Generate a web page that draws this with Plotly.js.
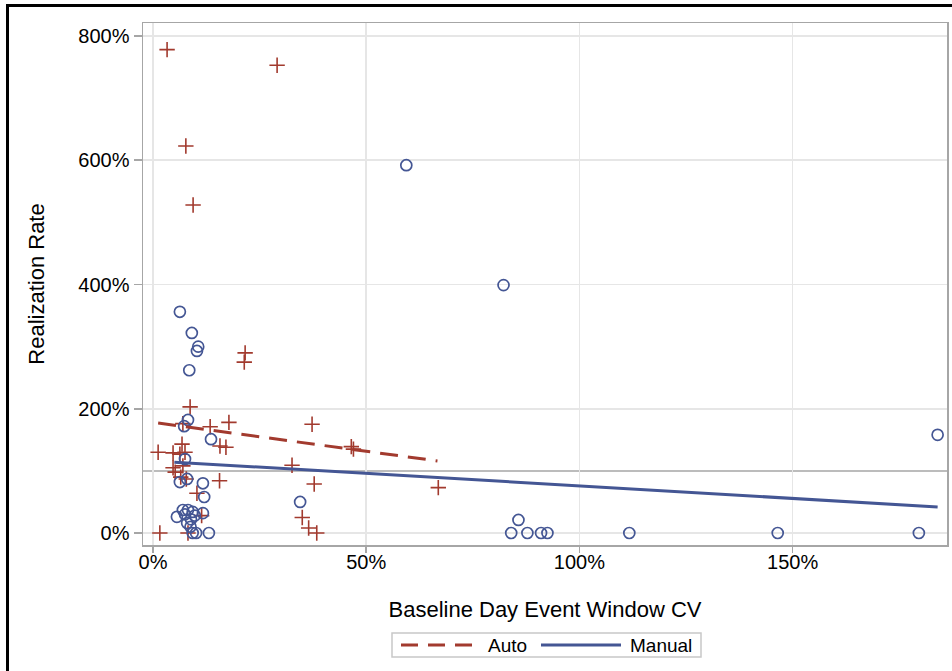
<!DOCTYPE html>
<html>
<head>
<meta charset="utf-8">
<script src="https://cdn.plot.ly/plotly-3.0.1.min.js"></script>
<style>
  html, body { margin: 0; padding: 0; background: #fff; }
  #wrap { position: relative; width: 952px; height: 671px; overflow: hidden; }
  #chart { position: absolute; left: 0; top: 0; width: 952px; height: 671px; }
  #frame { position: absolute; left: 6px; top: 4px; width: 960px; height: 700px;
           border-top: 3px solid #000; border-left: 3px solid #000; pointer-events: none; }
</style>
</head>
<body>
<div id="wrap">
  <div id="chart"></div>
  <div id="frame"></div>
</div>
<script>
// Auto group (red crosses): Baseline Day Event Window CV (%) vs Realization Rate (%)
const autoX = [3.3, 29.1, 7.7, 9.4, 21.6, 21.4, 8.7, 7.0, 13.4, 17.8, 37.3, 6.8, 15.7, 17.1, 46.5, 47.0,
               1.2, 4.7, 6.3, 7.5, 32.6, 4.7, 5.2, 7.0, 6.5, 7.8, 15.6, 37.8, 66.9, 10.3, 11.4,
               35.0, 36.5, 1.6, 8.2, 38.4];
const autoY = [778, 753, 623, 528, 290, 275, 203, 176, 171, 178, 175, 143, 140, 138, 139, 135,
               130, 129, 127, 130, 109, 105, 98, 108, 90, 87, 84, 79, 73, 64, 28,
               25, 8, 0, 0, 0];

// Manual group (blue circles)
const manualX = [59.4, 82.2, 184.0, 6.3, 9.1, 10.6, 10.3, 8.5, 8.2, 7.3, 13.6, 7.5, 6.3, 8.0, 11.7, 12.0,
                 5.6, 7.0, 8.2, 9.3, 7.5, 9.8, 8.0, 8.8, 11.7, 9.3, 10.1, 13.1, 34.5, 84.0, 85.7,
                 87.8, 91.0, 92.5, 111.7, 146.5, 179.6, 8.9];
const manualY = [592, 399, 158, 356, 322, 300, 293, 262, 182, 172, 151, 119, 82, 87, 80, 58,
                 26, 37, 37, 34, 30, 28, 16, 10, 32, 0, 0, 0, 50, 0, 21,
                 0, 0, 0, 0, 0, 0, 22];

// Regression fit lines (end points)
const autoFitX = [1.2, 66.7];
const autoFitY = [177, 116];
const manualFitX = [5.0, 184.0];
const manualFitY = [114, 42];

const seriesNames = ['Auto', 'Manual'];
const xTicks = [0, 50, 100, 150];
const yTicks = [0, 200, 400, 600, 800];
const refY = 100;

const RED = '#A23A2E';
const BLUE = '#445694';
const FONT = 'Liberation Sans, Arial, sans-serif';

// plot-area geometry (px) used to place the legend box under the plot
const M = { l: 143, r: 5, t: 23, b: 126 };
const W = 952, H = 671;
const pw = W - M.l - M.r, ph = H - M.t - M.b;
const px = v => (v - M.l) / pw;
const py = v => (H - M.b - v) / ph;

const traces = [
  { x: autoX, y: autoY, type: 'scatter', mode: 'markers', name: seriesNames[0], showlegend: false,
    marker: { symbol: 'cross-thin-open', size: 11, color: RED, line: { color: RED, width: 1.6 } } },
  { x: manualX, y: manualY, type: 'scatter', mode: 'markers', name: seriesNames[1], showlegend: false,
    marker: { symbol: 'circle-open', size: 11, color: BLUE, line: { color: BLUE, width: 1.7 } } },
  { x: autoFitX, y: autoFitY, type: 'scatter', mode: 'lines', name: seriesNames[0], showlegend: false,
    line: { color: RED, width: 3, dash: '18px,10px' } },
  { x: manualFitX, y: manualFitY, type: 'scatter', mode: 'lines', name: seriesNames[1], showlegend: false,
    line: { color: BLUE, width: 3 } }
];

const legY = 645;
const layout = {
  width: W, height: H,
  margin: M,
  paper_bgcolor: '#fff', plot_bgcolor: '#fff',
  font: { family: FONT, color: '#000', size: 19 },
  showlegend: false,
  xaxis: {
    range: [-2.35, 186.2], tickvals: xTicks, ticktext: xTicks.map(v => v + '%'),
    showgrid: true, gridcolor: '#e6e6e6', gridwidth: 1.5, zeroline: false,
    showline: true, mirror: true, linecolor: '#a6a6a6', linewidth: 1.5,
    ticks: 'outside', ticklen: 6, tickcolor: '#a6a6a6', tickwidth: 1.5,
    ticklabelstandoff: -8,
    tickfont: { size: 20, family: FONT },
    title: { text: 'Baseline Day Event Window CV', font: { size: 22, family: FONT }, standoff: 30 }
  },
  yaxis: {
    range: [-19.3, 820.9], tickvals: yTicks, ticktext: yTicks.map(v => v + '%'),
    showgrid: true, gridcolor: '#e6e6e6', gridwidth: 1.5, zeroline: false,
    showline: true, mirror: true, linecolor: '#a6a6a6', linewidth: 1.5,
    ticks: 'outside', ticklen: 8, tickcolor: '#a6a6a6', tickwidth: 1.5,
    tickfont: { size: 20, family: FONT },
    title: { text: 'Realization Rate', font: { size: 22, family: FONT }, standoff: 27 }
  },
  shapes: [
    { type: 'line', xref: 'paper', x0: 0, x1: 1, yref: 'y', y0: refY, y1: refY,
      line: { color: '#a6a6a6', width: 1.5 }, layer: 'below' },
    // legend box and keys
    { type: 'rect', xref: 'paper', yref: 'paper', x0: px(392), x1: px(701), y0: py(633), y1: py(657),
      line: { color: '#c8c8c8', width: 1.5 }, fillcolor: '#fff' },
    { type: 'line', xref: 'paper', yref: 'paper', x0: px(401), x1: px(472), y0: py(legY), y1: py(legY),
      line: { color: RED, width: 3, dash: '17px,10px' } },
    { type: 'line', xref: 'paper', yref: 'paper', x0: px(541), x1: px(621), y0: py(legY), y1: py(legY),
      line: { color: BLUE, width: 3 } }
  ],
  annotations: [
    { xref: 'paper', yref: 'paper', x: px(486), y: py(legY), xanchor: 'left', yanchor: 'middle',
      text: seriesNames[0], showarrow: false, font: { size: 19, family: FONT, color: '#000' } },
    { xref: 'paper', yref: 'paper', x: px(628), y: py(legY), xanchor: 'left', yanchor: 'middle',
      text: seriesNames[1], showarrow: false, font: { size: 19, family: FONT, color: '#000' } }
  ]
};

Plotly.newPlot('chart', traces, layout, { displayModeBar: false, staticPlot: true });
</script>
</body>
</html>
